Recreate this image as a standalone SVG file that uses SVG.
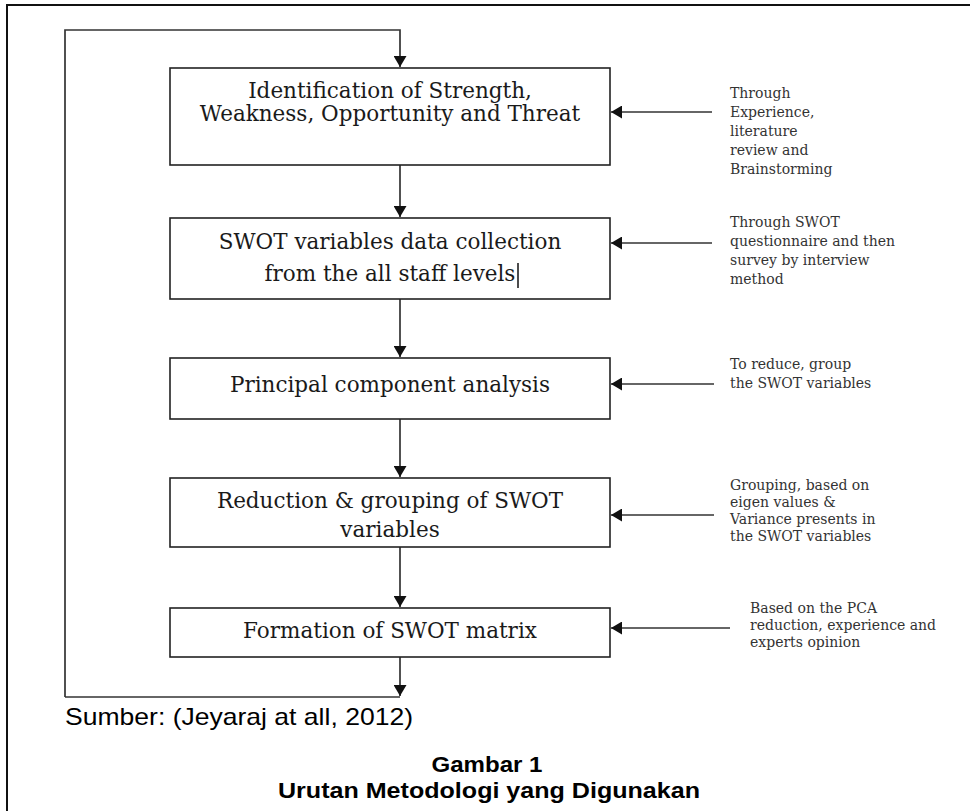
<svg xmlns="http://www.w3.org/2000/svg" width="970" height="811" viewBox="0 0 970 811">
<style>
.box{fill:#fff;stroke:#222;stroke-width:1.6}
.bt{font-family:"DejaVu Serif","Liberation Serif",serif;font-size:21.5px;fill:#1a1a1a;text-anchor:middle}
.nt{font-family:"DejaVu Serif","Liberation Serif",serif;font-size:14px;fill:#333}
.ln{fill:none;stroke:#333;stroke-width:1.7}
.cap{font-family:"Liberation Sans",Arial,sans-serif;fill:#000}
</style>
<defs>
<marker id="ah" markerWidth="13" markerHeight="13" viewBox="0 0 12 13" refX="11" refY="6.5" orient="auto" markerUnits="userSpaceOnUse">
<path d="M0,0 L11,6.5 L0,13 Z" fill="#111"/>
</marker>
</defs>
<rect width="970" height="811" fill="#fff"/>
<path d="M7,811 V5 H970" fill="none" stroke="#111" stroke-width="2"/>

<g id="connectors">
<path class="ln" d="M65,697 V30 H400 V67" marker-end="url(#ah)"/>
<path class="ln" d="M400,165 V217" marker-end="url(#ah)"/>
<path class="ln" d="M400,299 V357" marker-end="url(#ah)"/>
<path class="ln" d="M400,419 V477" marker-end="url(#ah)"/>
<path class="ln" d="M400,547 V607" marker-end="url(#ah)"/>
<path class="ln" d="M400,657 V696" marker-end="url(#ah)"/>
<path class="ln" d="M65,697 H400"/>
<path class="ln" d="M712,112 H611" marker-end="url(#ah)"/>
<path class="ln" d="M712,243 H611" marker-end="url(#ah)"/>
<path class="ln" d="M714,384 H611" marker-end="url(#ah)"/>
<path class="ln" d="M714,515 H611" marker-end="url(#ah)"/>
<path class="ln" d="M730,628 H611" marker-end="url(#ah)"/>
</g>

<g id="n1">
<rect class="box" x="170" y="68" width="440" height="97"/>
<text class="bt" x="390" y="98">Identification of Strength,</text>
<text class="bt" x="390" y="121">Weakness, Opportunity and Threat</text>
</g>
<g id="n2">
<rect class="box" x="170" y="218" width="440" height="81"/>
<text class="bt" x="390" y="249">SWOT variables data collection</text>
<text class="bt" x="390" y="281">from the all staff levels</text>
<line x1="518" y1="263" x2="518" y2="288" stroke="#111" stroke-width="1.5"/>
</g>
<g id="n3">
<rect class="box" x="170" y="358" width="440" height="61"/>
<text class="bt" x="390" y="392">Principal component analysis</text>
</g>
<g id="n4">
<rect class="box" x="170" y="478" width="440" height="69"/>
<text class="bt" x="390" y="508">Reduction &amp; grouping of SWOT</text>
<text class="bt" x="390" y="537">variables</text>
</g>
<g id="n5">
<rect class="box" x="170" y="608" width="440" height="49"/>
<text class="bt" x="390" y="638">Formation of SWOT matrix</text>
</g>

<g id="note1" class="nt">
<text x="730" y="98">Through</text>
<text x="730" y="117">Experience,</text>
<text x="730" y="136">literature</text>
<text x="730" y="155">review and</text>
<text x="730" y="174">Brainstorming</text>
</g>
<g id="note2" class="nt">
<text x="730" y="227">Through SWOT</text>
<text x="730" y="246">questionnaire and then</text>
<text x="730" y="265">survey by interview</text>
<text x="730" y="284">method</text>
</g>
<g id="note3" class="nt">
<text x="730" y="369">To reduce, group</text>
<text x="730" y="388">the SWOT variables</text>
</g>
<g id="note4" class="nt">
<text x="730" y="490">Grouping, based on</text>
<text x="730" y="507">eigen values &amp;</text>
<text x="730" y="524">Variance presents in</text>
<text x="730" y="541">the SWOT variables</text>
</g>
<g id="note5" class="nt">
<text x="750" y="613">Based on the PCA</text>
<text x="750" y="630">reduction, experience and</text>
<text x="750" y="647">experts opinion</text>
</g>

<g id="caption">
<text class="cap" x="65" y="725" font-size="24" textLength="348" lengthAdjust="spacingAndGlyphs">Sumber: (Jeyaraj at all, 2012)</text>
<text class="cap" x="487" y="772" font-size="22" font-weight="bold" text-anchor="middle" textLength="111" lengthAdjust="spacingAndGlyphs">Gambar 1</text>
<text class="cap" x="489" y="798" font-size="22" font-weight="bold" text-anchor="middle" textLength="422" lengthAdjust="spacingAndGlyphs">Urutan Metodologi yang Digunakan</text>
</g>
</svg>
